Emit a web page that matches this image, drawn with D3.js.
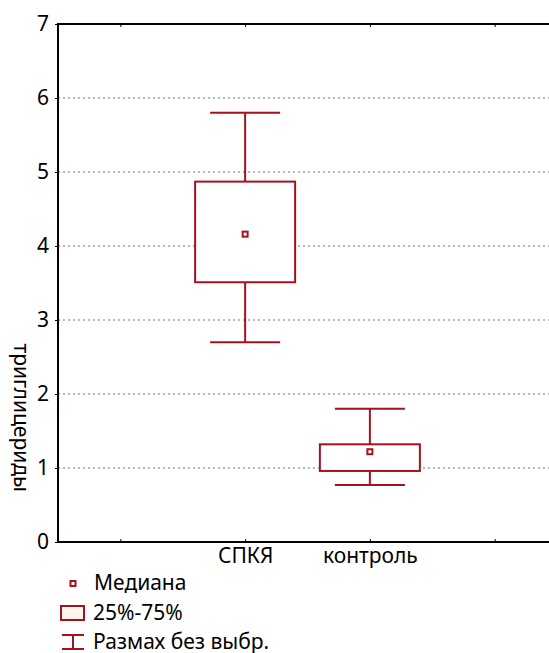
<!DOCTYPE html>
<html lang="ru">
<head>
<meta charset="utf-8">
<title>Триглицериды</title>
<style>
  body { margin: 0; background: #fff; }
  svg { font-family: "Noto Sans", sans-serif; }
</style>
</head>
<body>
<svg id="chart" width="549" height="653"></svg>
<script src="https://d3js.org/d3.v7.min.js"></script>
<script>
const groups = ["СПКЯ", "контроль"]
const medians = [4.16, 1.22]
const q1 = [3.51, 0.96]
const q3 = [4.87, 1.32]
const whiskLow = [2.70, 0.77]
const whiskHigh = [5.80, 1.80]
const yTicks = [0, 1, 2, 3, 4, 5, 6, 7]
const legendItems = ["Медиана", "25%-75%", "Размах без выбр."]

const RED = "#a3131f"
const plotLeft = 58, plotTop = 24, plotRight = 557, plotBottom = 542
const FS = 21

let svg = d3.select("#chart")

// positions: an empty slot each side of the two groups
let x = d3.scalePoint()
    .domain(["_a"].concat(groups, ["_b"]))
    .range([plotLeft, plotRight])
    .padding(0.5)

let y = d3.scaleLinear()
    .domain([0, 7])
    .range([plotBottom, plotTop])

// grid
svg.append("g").selectAll("line")
    .data(yTicks.filter(d => d > 0 && d < 7))
    .join("line")
    .attr("x1", plotLeft).attr("x2", plotRight)
    .attr("y1", d => y(d)).attr("y2", d => y(d))
    .attr("stroke", "#b8b8b8")
    .attr("stroke-width", 2)
    .attr("stroke-dasharray", "2,3")

// axes
let yAxis = d3.axisLeft(y).tickValues(yTicks).tickFormat(d3.format("d")).tickSize(3).tickPadding(6)
svg.append("g")
    .attr("transform", `translate(${plotLeft},0)`)
    .call(yAxis)
    .call(g => g.select(".domain").remove())
    .call(g => g.selectAll("text").attr("font-size", FS).attr("fill", "#000").attr("font-family", "Noto Sans"))

let xAxis = d3.axisBottom(x).tickSize(-3).tickPadding(6).tickFormat(d => d.startsWith("_") ? "" : d)
svg.append("g")
    .attr("transform", `translate(0,${plotBottom})`)
    .call(xAxis)
    .call(g => g.select(".domain").remove())
    .call(g => g.selectAll("text").attr("font-size", FS).attr("fill", "#000").attr("font-family", "Noto Sans").attr("dy", "0.71em"))

let xTop = d3.axisTop(x).tickSize(-3).tickFormat("")
svg.append("g")
    .attr("transform", `translate(0,${plotTop})`)
    .call(xTop)
    .call(g => g.select(".domain").remove())

// frame
svg.append("path")
    .attr("d", `M${plotRight},${plotTop}H${plotLeft}V${plotBottom}H${plotRight}`)
    .attr("fill", "none")
    .attr("stroke", "#000")
    .attr("stroke-width", 2)

// y label
svg.append("text")
    .attr("transform", `translate(14,${y(1.68)}) rotate(90)`)
    .attr("text-anchor", "middle")
    .attr("font-size", FS)
    .text("триглицериды")

// boxes
let boxW = 100, capW = 70
let box = svg.append("g").selectAll("g")
    .data(groups.map((g, i) => ({ g, i })))
    .join("g")
    .attr("stroke", RED)
    .attr("stroke-width", 2)
    .attr("fill", "none")

box.append("line")
    .attr("x1", d => x(d.g)).attr("x2", d => x(d.g))
    .attr("y1", d => y(whiskHigh[d.i])).attr("y2", d => y(q3[d.i]))
box.append("line")
    .attr("x1", d => x(d.g)).attr("x2", d => x(d.g))
    .attr("y1", d => y(q1[d.i])).attr("y2", d => y(whiskLow[d.i]))
box.append("line")
    .attr("x1", d => x(d.g) - capW / 2).attr("x2", d => x(d.g) + capW / 2)
    .attr("y1", d => y(whiskHigh[d.i])).attr("y2", d => y(whiskHigh[d.i]))
box.append("line")
    .attr("x1", d => x(d.g) - capW / 2).attr("x2", d => x(d.g) + capW / 2)
    .attr("y1", d => y(whiskLow[d.i])).attr("y2", d => y(whiskLow[d.i]))
box.append("rect")
    .attr("x", d => x(d.g) - boxW / 2).attr("width", boxW)
    .attr("y", d => y(q3[d.i])).attr("height", d => y(q1[d.i]) - y(q3[d.i]))
    .attr("fill", "#fff")
box.append("rect")
    .attr("x", d => x(d.g) - 2.5).attr("width", 5)
    .attr("y", d => y(medians[d.i]) - 2.5).attr("height", 5)
    .attr("fill", "#fff")

// legend
let lg = svg.append("g").attr("font-size", FS)
let ly = [583, 613, 642]
lg.selectAll("text")
    .data(legendItems)
    .join("text")
    .attr("x", (d, i) => i === 0 ? 94 : 93)
    .attr("y", (d, i) => ly[i])
    .attr("dy", "0.35em")
    .text(d => d)

lg.append("rect").attr("x", 70.5).attr("y", ly[0] - 2).attr("width", 5).attr("height", 5)
    .attr("fill", "#fff").attr("stroke", RED).attr("stroke-width", 2)
lg.append("rect").attr("x", 61).attr("y", ly[1] - 7).attr("width", 23).attr("height", 14)
    .attr("fill", "#fdf5ea").attr("stroke", RED).attr("stroke-width", 2)
lg.append("path")
    .attr("d", `M62,${ly[2] - 7}H84M73,${ly[2] - 7}V${ly[2] + 7}M62,${ly[2] + 7}H84`)
    .attr("fill", "none").attr("stroke", RED).attr("stroke-width", 2)
</script>
</body>
</html>
